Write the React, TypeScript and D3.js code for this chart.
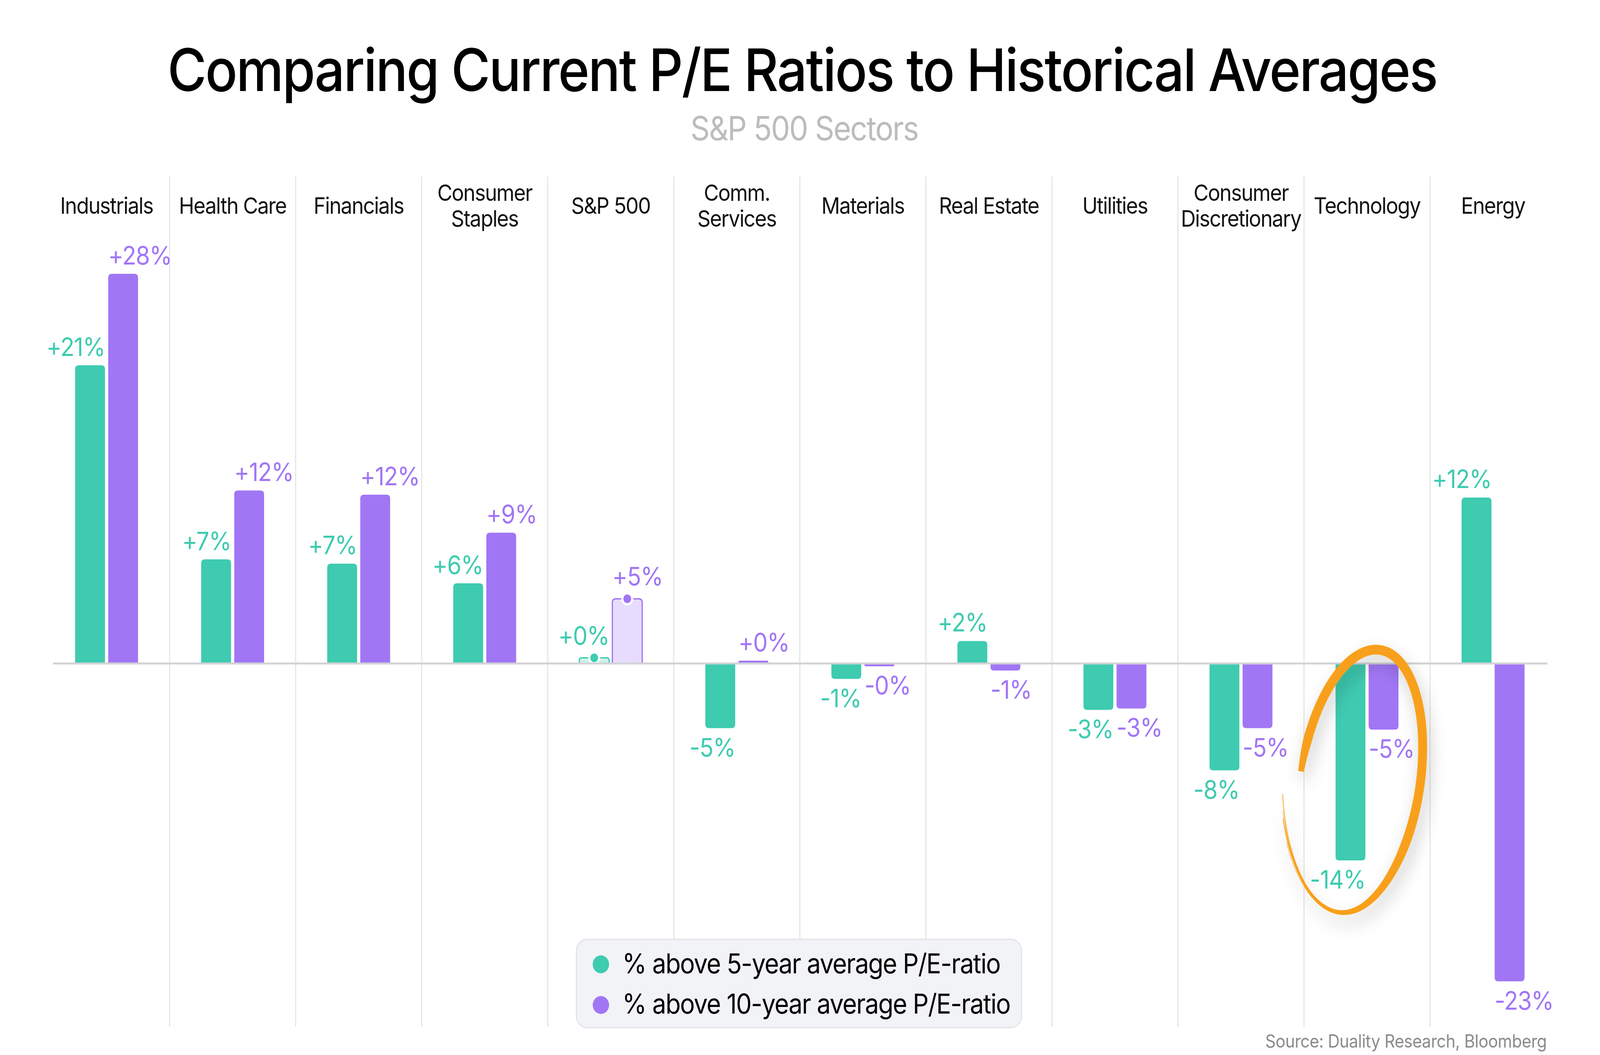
import React, { useEffect, useRef } from 'react';
import * as d3 from 'd3';

// sectors, left to right
const categories = [
  'Industrials', 'Health Care', 'Financials', 'Consumer Staples', 'S&P 500', 'Comm. Services',
  'Materials', 'Real Estate', 'Utilities', 'Consumer Discretionary', 'Technology', 'Energy',
];
const categoryLines = [
  ['Industrials'], ['Health Care'], ['Financials'], ['Consumer', 'Staples'], ['S&P 500'], ['Comm.', 'Services'],
  ['Materials'], ['Real Estate'], ['Utilities'], ['Consumer', 'Discretionary'], ['Technology'], ['Energy'],
];
// % above 5-year / 10-year average P/E
const fiveYear = [21.2, 7.4, 7.1, 5.7, 0.4, -4.6, -1.1, 1.6, -3.3, -7.6, -14.0, 11.8];
const tenYear = [27.7, 12.3, 12.0, 9.3, 4.6, 0.2, -0.2, -0.5, -3.2, -4.6, -4.7, -22.6];
const seriesKeys = ['5y', '10y'];
const seriesLabels = ['% above 5-year average P/E-ratio', '% above 10-year average P/E-ratio'];
const highlight = 'S&P 500';
const circled = 'Technology';

const W = 4500;
const H = 2700;
const TEAL = '#3ecbb0';
const PURPLE = '#a176f5';
const LIGHT = ['#cdf2ea', '#e7dcfd'];
const FONT = 'Inter, "Noto Sans", sans-serif';

const fmt = (v: number) => `${v < 0 ? '-' : '+'}${Math.round(Math.abs(v))}%`;

// bar with rounded corners on the end away from zero
function barPath(x: number, w: number, y0: number, y1: number, r: number) {
  const h = Math.abs(y1 - y0);
  const rr = Math.min(r, h / 2, w / 2);
  if (y1 <= y0) {
    return `M${x},${y0}V${y1 + rr}Q${x},${y1} ${x + rr},${y1}H${x + w - rr}Q${x + w},${y1} ${x + w},${y1 + rr}V${y0}Z`;
  }
  return `M${x},${y0}V${y1 - rr}Q${x},${y1} ${x + rr},${y1}H${x + w - rr}Q${x + w},${y1} ${x + w},${y1 - rr}V${y0}Z`;
}

const App: React.FC = () => {
  const svgRef = useRef<SVGSVGElement>(null);

  useEffect(() => {
    if (!svgRef.current) return;
    const svg = d3.select(svgRef.current);
    svg.selectAll('*').remove();

    const x = d3.scaleBand<string>().domain(categories).range([122.5, 4376.5]).padding(0);
    const groupW = 177;
    const xs = d3.scaleBand<string>().domain(seriesKeys).range([0, groupW]).paddingInner(0.0968);
    const y = d3.scaleLinear().domain([-23, 28]).range([1698 + 23 * 36, 1698 - 28 * 36]);
    const y0 = y(0);
    const bw = x.bandwidth();
    const bx = (cat: string, key: string) => (x(cat) as number) + (bw - groupW) / 2 + (xs(key) as number);

    const defs = svg.append('defs');
    const f = defs.append('filter').attr('id', 'shadow').attr('x', '-50%').attr('y', '-50%').attr('width', '200%').attr('height', '200%');
    f.append('feDropShadow').attr('dx', 8).attr('dy', 22).attr('stdDeviation', 22)
      .attr('flood-color', '#000').attr('flood-opacity', 0.22);

    svg.append('rect').attr('width', W).attr('height', H).attr('fill', '#fff');

    // title
    svg.append('text').attr('x', 2256).attr('y', 233).attr('text-anchor', 'middle')
      .style('font-family', FONT).style('font-size', '150px').style('font-weight', 500)
      .style('letter-spacing', '-3.6px').attr('fill', '#000')
      .text('Comparing Current P/E Ratios to Historical Averages');
    svg.append('text').attr('x', 2262).attr('y', 359).attr('text-anchor', 'middle')
      .style('font-family', FONT).style('font-size', '85px').style('letter-spacing', '-2.5px')
      .attr('fill', '#bcbcbc').text('S&P 500 Sectors');

    // column separators
    categories.slice(1).forEach(c => {
      svg.append('line').attr('x1', x(c) as number).attr('x2', x(c) as number)
        .attr('y1', 452).attr('y2', 2628).attr('stroke', '#e4e4e4').attr('stroke-width', 3);
    });

    // category labels
    categories.forEach((c, i) => {
      const lines = categoryLines[i];
      const cx = (x(c) as number) + bw / 2;
      const t = svg.append('text').attr('text-anchor', 'middle')
        .style('font-family', FONT).style('font-size', '58px').style('letter-spacing', '-2px').attr('fill', '#111');
      lines.forEach((ln, j) => {
        const by = lines.length === 1 ? 547 : 514 + j * 66;
        t.append('tspan').attr('x', cx).attr('y', by).text(ln);
      });
    });

    // bars
    const series = [fiveYear, tenYear];
    seriesKeys.forEach((key, si) => {
      const color = si === 0 ? TEAL : PURPLE;
      categories.forEach((c, i) => {
        const v = series[si][i];
        const x0 = bx(c, key);
        const w = xs.bandwidth();
        const yv = y(v);
        const hl = c === highlight;
        svg.append('path')
          .attr('d', barPath(x0, w, y0, yv, 10))
          .attr('fill', hl ? LIGHT[si] : color)
          .attr('stroke', hl ? color : 'none')
          .attr('stroke-width', hl ? 3.5 : 0);
        if (hl) {
          svg.append('circle').attr('cx', x0 + w / 2).attr('cy', yv).attr('r', 14)
            .attr('fill', color).attr('stroke', '#fff').attr('stroke-width', 6);
        }
        const ly = v >= 0 ? yv - 24 - (hl ? 10 : 0) : yv + 72;
        svg.append('text')
          .attr('x', si === 0 ? x0 + w : x0)
          .attr('y', ly)
          .attr('text-anchor', si === 0 ? 'end' : 'start')
          .style('font-family', FONT).style('font-size', '65px').style('letter-spacing', '-1.5px').attr('fill', color)
          .text(fmt(v));
      });
    });

    // zero line
    svg.append('line').attr('x1', 149).attr('x2', 4352).attr('y1', y0).attr('y2', y0)
      .attr('stroke', '#d2d2d6').attr('stroke-width', 5);

    // hand-drawn circle around Technology
    const ccx = (x(circled) as number) + bw / 2 - 19;
    const ccy = y(-8.3);
    const rx = 168, ry = 338, phi = (10 * Math.PI) / 180;
    const N = 260;
    const t0 = Math.PI - 0.02, t1 = 3 * Math.PI - 0.32;
    const pt = (s: number, extra = 0) => {
      const t = t0 + (t1 - t0) * s;
      const g = 1 + 0.26 * Math.pow(Math.max(0, (s - 0.62) / 0.38), 2) + extra;
      const lx = rx * g * Math.cos(t), ly = ry * (1 + (g - 1) * 0.3) * Math.sin(t);
      return [ccx + lx * Math.cos(phi) - ly * Math.sin(phi), ccy + lx * Math.sin(phi) + ly * Math.cos(phi)];
    };
    const width = (s: number) => {
      if (s < 0.04) return 16 + 9 * (s / 0.04);
      if (s < 0.6) return 25;
      if (s < 0.8) return 25 - 14 * ((s - 0.6) / 0.2);
      return Math.max(1, 11 - 10 * ((s - 0.8) / 0.2));
    };
    const outer: number[][] = [];
    const inner: number[][] = [];
    for (let k = 0; k <= N; k++) {
      const s = k / N;
      const p = pt(s);
      const q = pt(Math.min(1, s + 0.002));
      const pp = pt(Math.max(0, s - 0.002));
      const dx = q[0] - pp[0], dy = q[1] - pp[1];
      const len = Math.hypot(dx, dy) || 1;
      const nx = -dy / len, ny = dx / len;
      const w = width(s) / 2;
      outer.push([p[0] + nx * w, p[1] + ny * w]);
      inner.push([p[0] - nx * w, p[1] - ny * w]);
    }
    const ring = outer.concat(inner.reverse());
    const gCircle = svg.append('g').attr('filter', 'url(#shadow)');
    gCircle.append('path').attr('d', `M${ring.map(p => p.join(',')).join('L')}Z`).attr('fill', '#f8a01a');
    // dry brush streaks near the tail
    [-0.02, 0.015, 0.035].forEach((off, k) => {
      const pts: [number, number][] = d3.range(0, 41).map(j => {
        const s = 0.66 + (0.36 - k * 0.03) * (j / 40);
        return pt(s, off) as [number, number];
      });
      gCircle.append('path').attr('d', d3.line()(pts) as string).attr('fill', 'none')
        .attr('stroke', '#f8a01a').attr('stroke-width', 2 - k * 0.4);
    });

    // legend
    const lg = svg.append('g');
    lg.append('rect').attr('x', 1621).attr('y', 2404).attr('width', 1252).attr('height', 226).attr('rx', 30)
      .attr('fill', '#f2f3f7').attr('stroke', '#e2e2e7').attr('stroke-width', 3);
    seriesLabels.forEach((lab, i) => {
      lg.append('circle').attr('cx', 1690).attr('cy', 2468 + i * 104).attr('r', 23).attr('fill', i === 0 ? TEAL : PURPLE);
      lg.append('text').attr('x', 1750).attr('y', 2491 + i * 103)
        .style('font-family', FONT).style('font-size', '70px').style('letter-spacing', '-2px')
        .attr('fill', '#000').text(lab);
    });

    // source
    svg.append('text').attr('x', 4350).attr('y', 2681).attr('text-anchor', 'end')
      .style('font-family', FONT).style('font-size', '46px').style('letter-spacing', '-0.5px').attr('fill', '#8c8c8c')
      .text('Source: Duality Research, Bloomberg');
  }, []);

  return (
    <svg ref={svgRef} viewBox={`0 0 ${W} ${H}`} preserveAspectRatio="none"
      style={{ position: 'absolute', left: 0, top: 0, width: '100vw', height: '100vh', display: 'block' }} />
  );
};

export default App;
